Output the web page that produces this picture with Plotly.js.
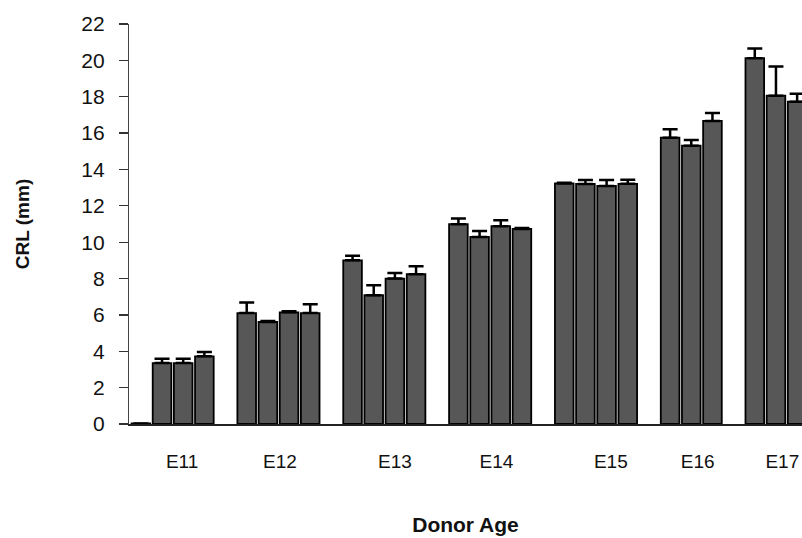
<!DOCTYPE html>
<html>
<head>
<meta charset="utf-8">
<script src="https://cdn.plot.ly/plotly-3.0.1.min.js"></script>
<style>html,body{margin:0;padding:0;background:#fff;}#chart{width:802px;height:538px;}</style>
</head>
<body>
<div id="chart"></div>
<script>
// Donor age groups
var groups = ["E11", "E12", "E13", "E14", "E15", "E16", "E17"];
// CRL (mm) mean values per group
var e11 = [0.03, 3.35, 3.35, 3.72];
var e12 = [6.10, 5.61, 6.14, 6.10];
var e13 = [9.00, 7.08, 8.00, 8.24];
var e14 = [10.99, 10.29, 10.88, 10.73];
var e15 = [13.23, 13.20, 13.09, 13.21];
var e16 = [15.75, 15.31, 16.67];
var e17 = [20.12, 18.06, 17.73];
// standard errors (upward)
var e11err = [0.0, 0.24, 0.24, 0.24];
var e12err = [0.58, 0.06, 0.06, 0.48];
var e13err = [0.25, 0.55, 0.30, 0.43];
var e14err = [0.31, 0.33, 0.33, 0.05];
var e15err = [0.04, 0.22, 0.33, 0.22];
var e16err = [0.46, 0.31, 0.44];
var e17err = [0.53, 1.60, 0.44];

var vals = [e11, e12, e13, e14, e15, e16, e17];
var errs = [e11err, e12err, e13err, e14err, e15err, e16err, e17err];

var x = [], y = [], ey = [], em = [];
var slot = 0;
vals.forEach(function(g, gi){
  g.forEach(function(v, i){
    x.push(slot); y.push(v); ey.push(errs[gi][i]); em.push(0);
    slot++;
  });
  slot++; // empty slot between groups
});

var trace = {
  type: 'bar',
  x: x, y: y,
  width: 0.88,
  marker: {color: '#575757', line: {color: '#000', width: 1.8}},
  error_y: {type: 'data', array: ey, arrayminus: em, symmetric: false,
            visible: true, color: '#000', thickness: 2.5, width: 7.5},
  hoverinfo: 'skip'
};

var font = 'Liberation Sans, Arial, sans-serif';
var layout = {
  width: 802, height: 538,
  margin: {l: 129, r: 0, t: 24, b: 114},
  paper_bgcolor: '#fff', plot_bgcolor: '#fff',
  showlegend: false,
  bargap: 0,
  font: {family: font, color: '#111'},
  xaxis: {
    range: [-0.56, 31.23],
    tickmode: 'array',
    tickvals: [1.95, 6.57, 12.0, 16.8, 22.2, 26.3, 30.3],
    ticktext: groups,
    ticks: '',
    ticklabelstandoff: 20,
    tickfont: {size: 19, family: font, color: '#111'},
    showgrid: false, zeroline: false,
    showline: true, linecolor: '#222', linewidth: 1.5,
    title: {text: 'Donor Age', font: {size: 21, family: font, weight: 'bold', color: '#111'}, standoff: 46}
  },
  yaxis: {
    range: [0, 22],
    tickmode: 'array',
    tickvals: [0, 2, 4, 6, 8, 10, 12, 14, 16, 18, 20, 22],
    ticks: 'outside', ticklen: 9, tickwidth: 1.2, tickcolor: '#333',
    ticklabelstandoff: 10,
    tickfont: {size: 21, family: font, color: '#111'},
    showgrid: false, zeroline: false,
    showline: true, linecolor: '#444', linewidth: 1.2,
    title: {text: 'CRL (mm)', font: {size: 19, family: font, weight: 'bold', color: '#111'}, standoff: 46}
  }
};

Plotly.newPlot('chart', [trace], layout, {displayModeBar: false, staticPlot: true});
</script>
</body>
</html>
